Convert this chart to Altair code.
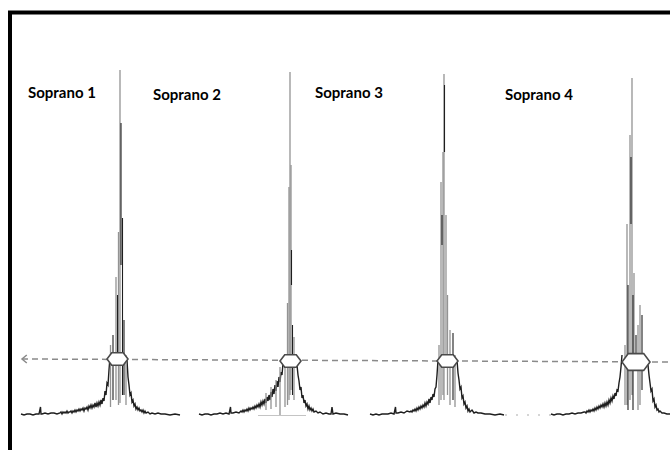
import altair as alt
import pandas as pd

# ---------------- data ----------------
# Envelope traces (frequency position, amplitude above baseline)
s1_left_x = [21, 24, 27, 30, 33, 36, 39, 40.5, 41, 42, 45, 48, 51, 54, 57,
             60, 61, 62, 63, 64, 65, 66, 67, 68, 69, 70, 71, 72, 73, 74, 75, 76, 77, 78, 79,
             80, 81, 82, 83, 84, 85, 86, 87, 88, 89, 90, 91, 92, 93, 94, 95, 96, 97, 98, 99,
             100, 101, 102, 103, 104, 105, 106, 107, 108, 109, 110]
s1_left_a = [1, 0, 1, 1, 0, 1, 1, 8, 1, 1, 2, 1, 2, 2, 1,
             2, 3, 1, 3, 2, 3, 2, 4, 2, 3, 3, 4, 2, 4, 3, 5, 3, 5, 4, 6,
             4, 6, 5, 7, 4, 7, 6, 8, 5, 9, 7, 10, 7, 10, 8, 12, 8, 12, 9, 13,
             10, 15, 11, 17, 14, 24, 20, 32, 30, 45, 58]
s1_right_x = [127, 128, 129, 130, 131, 132, 133, 134, 135, 136, 137, 138, 139, 140, 141, 142, 143, 144, 145, 146, 148, 150, 152, 155, 158, 161, 165, 170, 175, 180]
s1_right_a = [55, 38, 30, 20, 22, 13, 15, 9, 11, 6, 8, 5, 7, 4, 5, 3, 5, 2, 4, 2, 3, 1, 2, 1, 2, 1, 1, 0, 1, 0]

s2_left_x = [199, 202, 205, 208, 211, 214, 217, 220, 223, 226, 229, 230.5, 231, 233, 236, 239,
             240, 241, 242, 243, 244, 245, 246, 247, 248, 249, 250, 251, 252, 253, 254, 255, 256, 257, 258, 259,
             260, 261, 262, 263, 264, 265, 266, 267, 268, 269, 270, 271, 272, 273, 274, 275, 276, 277, 278, 279,
             280, 281, 282, 283]
s2_left_a = [1, 0, 1, 1, 0, 1, 1, 2, 1, 2, 1, 8, 2, 2, 3, 2,
             3, 4, 3, 5, 3, 5, 4, 6, 4, 7, 5, 7, 6, 8, 6, 9, 7, 10, 8, 11,
             8, 13, 10, 14, 11, 16, 12, 18, 14, 20, 15, 23, 18, 26, 21, 30, 24, 34, 28, 38,
             33, 43, 40, 52]
s2_right_x = [297, 298, 299, 300, 301, 302, 303, 304, 305, 306, 307, 308, 309, 310, 311, 312, 313, 314, 316, 318, 320, 323, 326, 329, 331, 332, 333, 336, 340, 344, 348]
s2_right_a = [50, 40, 34, 25, 28, 17, 20, 12, 15, 9, 11, 6, 9, 5, 7, 4, 6, 3, 4, 2, 3, 1, 2, 1, 1, 8, 1, 2, 1, 1, 0]
s2_floor_x = [258, 306]
s2_floor_a = [-0.5, -0.5]

s3_left_x = [370, 373, 376, 379, 382, 385, 388, 391, 394, 395.5, 396, 398, 401, 404, 407,
             410, 411, 412, 413, 414, 415, 416, 417, 418, 419, 420, 421, 422, 423, 424, 425, 426, 427, 428, 429,
             430, 431, 432, 433, 434, 435, 436, 437, 438]
s3_left_a = [1, 0, 1, 0, 1, 1, 1, 2, 1, 8, 2, 2, 3, 2, 4,
             3, 4, 3, 5, 4, 6, 4, 7, 5, 8, 6, 9, 7, 10, 8, 12, 9, 13, 11, 16,
             12, 18, 15, 21, 18, 26, 28, 40, 55]
s3_right_x = [457, 458, 459, 460, 461, 462, 463, 464, 465, 466, 467, 468, 469, 470, 472, 474, 476, 478, 481, 485, 490, 495, 500, 504]
s3_right_a = [55, 42, 35, 26, 28, 17, 19, 11, 13, 7, 9, 4, 6, 3, 5, 2, 3, 2, 2, 1, 1, 0, 1, 0]
gap_x = [505, 551]
gap_a = [0, 0]

s4_left_x = [551, 554, 557, 560, 563, 566, 569, 572, 575, 578, 581, 584,
             585, 586, 587, 588, 589, 590, 591, 592, 593, 594, 595, 596, 597, 598, 599,
             600, 601, 602, 603, 604, 605, 606, 607, 608, 609, 610, 611, 612, 613, 614, 615, 616, 617, 618, 619,
             620, 621, 622]
s4_left_a = [1, 0, 1, 1, 0, 1, 1, 2, 1, 2, 2, 3,
             3, 2, 4, 3, 5, 3, 5, 4, 6, 4, 7, 5, 8, 6, 9,
             7, 10, 8, 11, 8, 12, 9, 13, 10, 15, 12, 17, 14, 19, 16, 22, 19, 25, 24, 32,
             38, 48, 60]
s4_right_x = [648, 649, 650, 651, 652, 653, 654, 655, 656, 657, 658, 659, 660, 662, 664, 667, 670]
s4_right_a = [50, 40, 32, 24, 26, 14, 16, 8, 10, 5, 6, 3, 4, 2, 2, 1, 1]

# Harmonic spikes: position, top, bottom, tone (g = grey, k = black)
s1_spike_x = [120, 121, 118.5, 122.5, 116, 113, 124, 126, 110.5, 117.5]
s1_spike_top = [345, 292, 183, 197, 138, 80, 95, 60, 70, 120]
s1_spike_bot = [12, 150, 10, 20, 15, 15, 20, 10, 8, 60]
s1_spike_tone = ["g", "k", "g", "k", "g", "k", "k", "g", "g", "k"]

s2_spike_x = [290, 291, 289, 291.5, 287.5, 294, 285, 292.5, 280, 276, 271, 266]
s2_spike_top = [343, 250, 228, 165, 112, 78, 60, 90, 48, 35, 28, 22]
s2_spike_bot = [20, 25, 15, 130, 10, 15, 8, 20, 0, 8, 6, 5]
s2_spike_tone = ["g", "g", "g", "k", "g", "g", "g", "k", "g", "g", "g", "g"]

s3_spike_x = [444, 444.5, 443, 441, 446, 442, 450, 453, 447.5, 439, 455]
s3_spike_top = [341, 330, 263, 233, 200, 200, 85, 82, 120, 70, 60]
s3_spike_bot = [15, 263, 20, 15, 60, 170, 10, 15, 20, 10, 8]
s3_spike_tone = ["g", "k", "g", "g", "g", "k", "g", "k", "g", "g", "g"]

s4_spike_x = [632, 630, 631, 627, 628, 634, 640, 642, 636, 625, 638, 633]
s4_spike_top = [337, 280, 258, 191, 130, 142, 110, 100, 80, 70, 90, 120]
s4_spike_bot = [20, 15, 191, 10, 5, 60, 10, 25, 55, 10, 5, 5]
s4_spike_tone = ["g", "g", "k", "g", "k", "g", "g", "k", "k", "g", "g", "k"]

# Threshold line (dashed, arrow pointing left) and its crossing markers
thresh_x = [22, 670]
thresh_a = [56, 53]
marker_x = [117.5, 290.5, 447.5, 636]
marker_a = [56, 54, 54, 53]
marker_w = [21, 21, 21, 28]

labels = ["Soprano 1", "Soprano 2", "Soprano 3", "Soprano 4"]
label_x = [28, 153, 315, 505]
label_a = [317, 315, 317.5, 315.5]

# ---------------- build tables ----------------
def seg(name, xs, amps, tone):
    return pd.DataFrame({"x": xs, "amp": amps, "seg": name, "tone": tone})

env = pd.concat([
    seg("s1l", s1_left_x, s1_left_a, "k"),
    seg("s1r", s1_right_x, s1_right_a, "k"),
    seg("s2l", s2_left_x, s2_left_a, "k"),
    seg("s2r", s2_right_x, s2_right_a, "k"),
    seg("s3l", s3_left_x, s3_left_a, "k"),
    seg("s3r", s3_right_x, s3_right_a, "k"),
    seg("s4l", s4_left_x, s4_left_a, "k"),
    seg("s4r", s4_right_x, s4_right_a, "k"),
], ignore_index=True)
floor = seg("s2f", s2_floor_x, s2_floor_a, "g")
gap = seg("gap", gap_x, gap_a, "g")

spikes = pd.concat([
    pd.DataFrame({"x": s1_spike_x, "top": s1_spike_top, "bot": s1_spike_bot, "tone": s1_spike_tone}),
    pd.DataFrame({"x": s2_spike_x, "top": s2_spike_top, "bot": s2_spike_bot, "tone": s2_spike_tone}),
    pd.DataFrame({"x": s3_spike_x, "top": s3_spike_top, "bot": s3_spike_bot, "tone": s3_spike_tone}),
    pd.DataFrame({"x": s4_spike_x, "top": s4_spike_top, "bot": s4_spike_bot, "tone": s4_spike_tone}),
], ignore_index=True)

thresh = pd.DataFrame({"x": thresh_x, "amp": thresh_a})
arrow = pd.DataFrame({"x": thresh_x[:1], "amp": thresh_a[:1]})
markers = pd.DataFrame({"x": marker_x, "amp": marker_a, "w2": [w * w for w in marker_w]})
lab = pd.DataFrame({"label": labels, "x": label_x, "amp": label_a})

xs = alt.Scale(domain=[0, 670], nice=False, zero=False)
ys = alt.Scale(domain=[-35, 415], nice=False, zero=False)
X = alt.X("x:Q", scale=xs, axis=None)
Y = alt.Y("amp:Q", scale=ys, axis=None)
tone_scale = alt.Scale(domain=["g", "k"], range=["#939393", "#1e1e1e"])

frame = alt.Chart(pd.DataFrame({"a": [0]})).mark_rect(
    filled=False, stroke="black", strokeWidth=4
).encode(x=alt.value(10), x2=alt.value(720), y=alt.value(12.5), y2=alt.value(500))

floor_l = alt.Chart(floor).mark_line(color="#c4c4c4", strokeWidth=1.2).encode(x=X, y=Y)
gap_l = alt.Chart(gap).mark_line(color="#c8c8c8", strokeWidth=1.3, strokeDash=[2, 9]).encode(x=X, y=Y)

env_l = alt.Chart(env).mark_line(strokeWidth=1.4, strokeJoin="miter").encode(
    x=X, y=Y, detail="seg:N",
    color=alt.Color("tone:N", scale=tone_scale, legend=None),
)

spike_l = alt.Chart(spikes).mark_rule().encode(
    x=X,
    y=alt.Y("top:Q", scale=ys, axis=None),
    y2="bot:Q",
    color=alt.Color("tone:N", scale=tone_scale, legend=None),
    size=alt.Size("tone:N", scale=alt.Scale(domain=["g", "k"], range=[1.3, 1.1]), legend=None),
)

thresh_l = alt.Chart(thresh).mark_line(color="#8a8a8a", strokeWidth=1.5, strokeDash=[6, 4]).encode(x=X, y=Y)
arrow_l = alt.Chart(arrow).mark_point(
    shape="M 1.2 -1 L 0 0 L 1.2 1", filled=False, color="#8a8a8a", strokeWidth=1.5, size=64, opacity=1
).encode(x=X, y=Y)

marker_l = alt.Chart(markers).mark_point(
    shape="M -1 0 L -0.55 -0.6 L 0.55 -0.6 L 1 0 L 0.55 0.6 L -0.55 0.6 Z",
    filled=True, fill="white", stroke="#4a4a4a", strokeWidth=1.6, opacity=1, fillOpacity=1,
).encode(x=X, y=Y, size=alt.Size("w2:Q", scale=None, legend=None))

text_l = alt.Chart(lab).mark_text(
    font="Lato", fontWeight="bold", fontSize=15, align="left", baseline="alphabetic", color="black"
).encode(x=X, y=Y, text="label:N")

chart = alt.layer(
    floor_l, gap_l, env_l, spike_l, thresh_l, arrow_l, marker_l, text_l, frame
).properties(
    width=670, height=450, padding=0, autosize=alt.AutoSizeParams(type="none"), background="white"
).configure_view(strokeWidth=0)

chart.save("out.html", embed_options={"renderer": "svg", "actions": False})
